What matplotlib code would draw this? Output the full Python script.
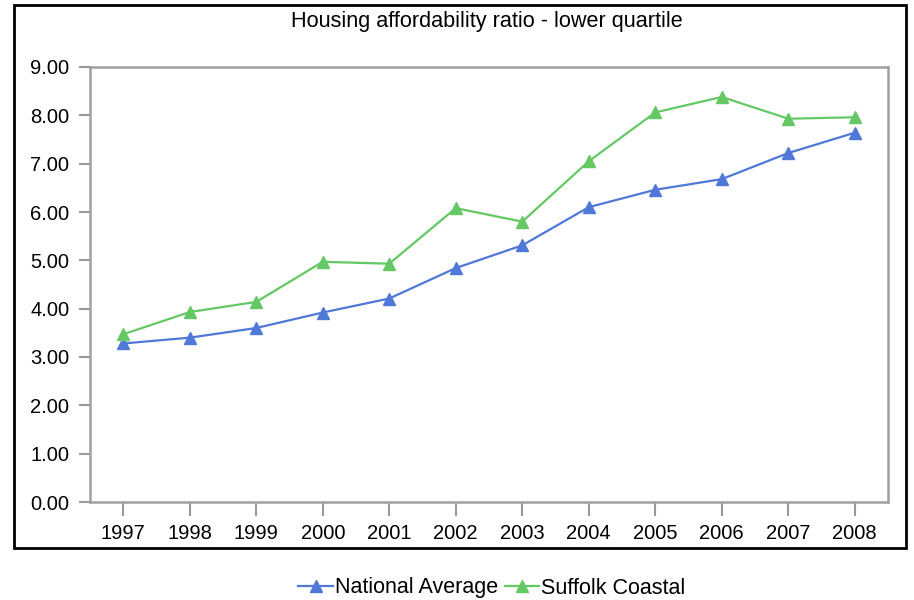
import matplotlib
matplotlib.use("Agg")
import matplotlib.pyplot as plt
from matplotlib.patches import Rectangle

years = ["1997", "1998", "1999", "2000", "2001", "2002", "2003", "2004", "2005", "2006", "2007", "2008"]
national_average = [3.28, 3.40, 3.60, 3.92, 4.21, 4.84, 5.31, 6.10, 6.46, 6.68, 7.22, 7.64]
suffolk_coastal = [3.47, 3.93, 4.14, 4.97, 4.93, 6.08, 5.80, 7.05, 8.06, 8.38, 7.93, 7.96]
y_ticks = [0, 1, 2, 3, 4, 5, 6, 7, 8, 9]
title = "Housing affordability ratio - lower quartile"

plt.rcParams['font.family'] = ['Liberation Sans', 'DejaVu Sans']

W, H = 914, 600
fig = plt.figure(figsize=(W / 100, H / 100), dpi=100)

# axes in pixel coords
L, R, T, B = 90, 888, 67, 502
ax = fig.add_axes([L / W, 1 - B / H, (R - L) / W, (B - T) / H])

blue = "#4f78d8"
green = "#64c864"
x = list(range(len(years)))
ax.plot(x, national_average, color=blue, lw=1.6, marker="^", ms=9, label="National Average")
ax.plot(x, suffolk_coastal, color=green, lw=1.6, marker="^", ms=9, label="Suffolk Coastal")

ax.set_xlim(-0.5, len(years) - 0.5)
ax.set_ylim(0, 9)
ax.set_xticks(x)
ax.set_xticklabels(years)
ax.set_yticks(y_ticks)
ax.set_yticklabels([f"{v:.2f}" for v in y_ticks])
ax.tick_params(axis="both", colors="#999999", labelcolor="black", labelsize=14.5, width=1.5)
ax.tick_params(axis="y", length=8, pad=7)
ax.tick_params(axis="x", length=10, pad=6)
for s in ax.spines.values():
    s.set_color("#a0a0a0")
    s.set_linewidth(1.8)

fig.text(487 / W, 1 - 22 / H, title, ha="center", va="center", fontsize=15.6)

# outer box
fig.patches.append(Rectangle((14 / W, 1 - 548 / H), (906 - 14) / W, (548 - 5) / H,
                             transform=fig.transFigure, fill=False, edgecolor="black", lw=2))

leg = fig.legend(loc="center", bbox_to_anchor=(492 / W, 1 - 588 / H), ncol=2, frameon=False,
                 fontsize=15.5, handlelength=1.6, handletextpad=0.1, columnspacing=0.3,
                 markerscale=0.9)

fig.savefig("out.png", dpi=100)
